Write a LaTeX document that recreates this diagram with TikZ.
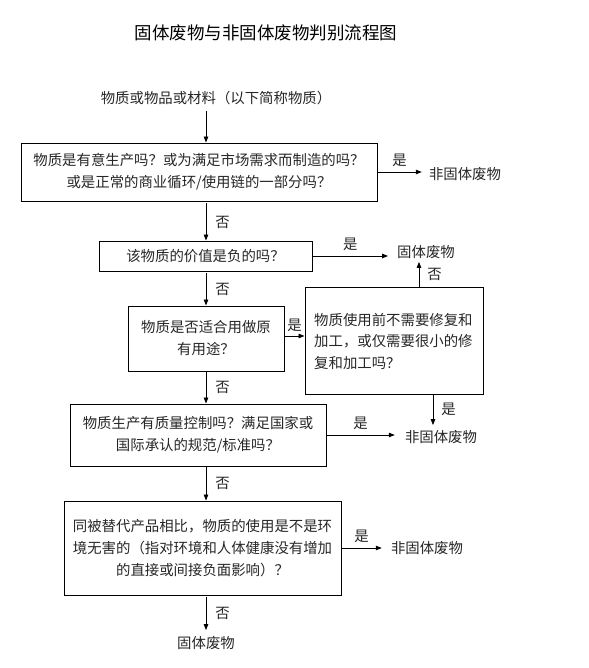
\documentclass[tikz,border=0pt]{standalone}
\usepackage{fontspec}
\setmainfont{Noto Sans CJK SC}
\newfontfamily\cjk{Noto Sans CJK SC}
\usetikzlibrary{arrows.meta}
\begin{document}
\begin{tikzpicture}[x=1pt,y=-1pt,
  txt/.style={inner sep=0pt, text=black!85, font=\cjk\fontsize{14.4}{22}\selectfont},
  box/.style={draw, line width=0.9pt, inner sep=0pt, align=center, text=black!85, font=\cjk\fontsize{14.4}{22}\selectfont},
  arr/.style={-{Triangle[length=6pt,width=4.5pt]}, line width=0.8pt},
  lblr/.style={txt, right, inner sep=0pt, xshift=9pt},
  lbla/.style={txt, above, inner sep=0pt, yshift=5pt}]
\useasboundingbox (0,0) rectangle (588,668);
\coordinate (col) at (206,0);
% title
\node[txt, font=\cjk\fontsize{17.5}{20}\selectfont, text=black] (title) at (266,33) {固体废物与非固体废物判别流程图};
\node[txt] (start) at (216,98) {物质或物品或材料（以下简称物质）};
% boxes
\node[box, minimum width=356pt, minimum height=58pt] (b1) at (199,172)
  {物质是有意生产吗？或为满足市场需求而制造的吗？\\或是正常的商业循环/使用链的一部分吗？};
\node[box, minimum width=213pt, minimum height=30pt] (b2) at (205.5,256)
  {该物质的价值是负的吗？};
\node[box, minimum width=156pt, minimum height=65pt] (b3) at (206,338.5)
  {物质是否适合用做原\\有用途？};
\node[box, minimum width=178pt, minimum height=107pt] (b4) at (394,340.5) {};
\node[txt, anchor=west, align=left, font=\cjk\fontsize{14.4}{21.5}\selectfont] (b4t) at (314,341)
  {物质使用前不需要修复和\\加工，或仅需要很小的修\\复和加工吗？};
\node[box, minimum width=256pt, minimum height=62pt] (b5) at (198,435)
  {物质生产有质量控制吗？满足国家或\\国际承认的规范/标准吗？};
\node[box, minimum width=277pt, minimum height=94pt] (b6) at (202.5,548)
  {同被替代产品相比，物质的使用是不是环\\境无害的（指对环境和人体健康没有增加\\的直接或间接负面影响）？};
% outcomes
\node[txt] (ng1) at (465,174) {非固体废物};
\node[txt] (gt1) at (426,252) {固体废物};
\node[txt] (ng2) at (441,437) {非固体废物};
\node[txt] (ng3) at (427,548) {非固体废物};
\node[txt] (gt2) at (206,643) {固体废物};
% vertical flow
\draw[arr] ([yshift=-6pt]start.south -| col) -- (b1.north -| col);
\draw[arr] ([yshift=-2pt]b1.south -| col) -- node[lblr] {否} (b2.north -| col);
\draw[arr] ([yshift=-2pt]b2.south -| col) -- node[lblr] {否} (b3.north -| col);
\draw[arr] (b3.south -| col) -- node[lblr] {否} (b5.north -| col);
\draw[arr] (b5.south -| col) -- node[lblr] {否} (b6.north -| col);
\draw[arr] ([yshift=-2pt]b6.south -| col) -- node[lblr] {否} ([yshift=6pt]gt2.north -| col);
% horizontal yes arrows
\draw[arr] (b1.east) -- node[lbla] {是} ([xshift=-7pt]b1.east -| ng1.west);
\draw[arr] (b2.east) -- node[lbla] {是} ([xshift=-9pt]b2.east -| gt1.west);
\draw[arr] ([yshift=2.5pt]b3.east) -- node[lbla, yshift=-1pt] {是} ([yshift=2.5pt]b3.east -| b4.west);
\draw[arr] (b5.east) -- node[lbla] {是} ([xshift=-10pt]b5.east -| ng2.west);
\draw[arr] (b6.east) -- node[lbla] {是} ([xshift=-9pt]b6.east -| ng3.west);
% box4 exits
\draw[arr] ([xshift=-7pt]gt1.south |- b4.north) -- node[lblr, xshift=-1pt] {否} ([xshift=-7pt,yshift=-3pt]gt1.south);
\draw[arr] ([xshift=-8pt]ng2.north |- b4.south) -- node[lblr, xshift=-1pt] {是} ([xshift=-8pt,yshift=5pt]ng2.north);
\end{tikzpicture}
\end{document}
